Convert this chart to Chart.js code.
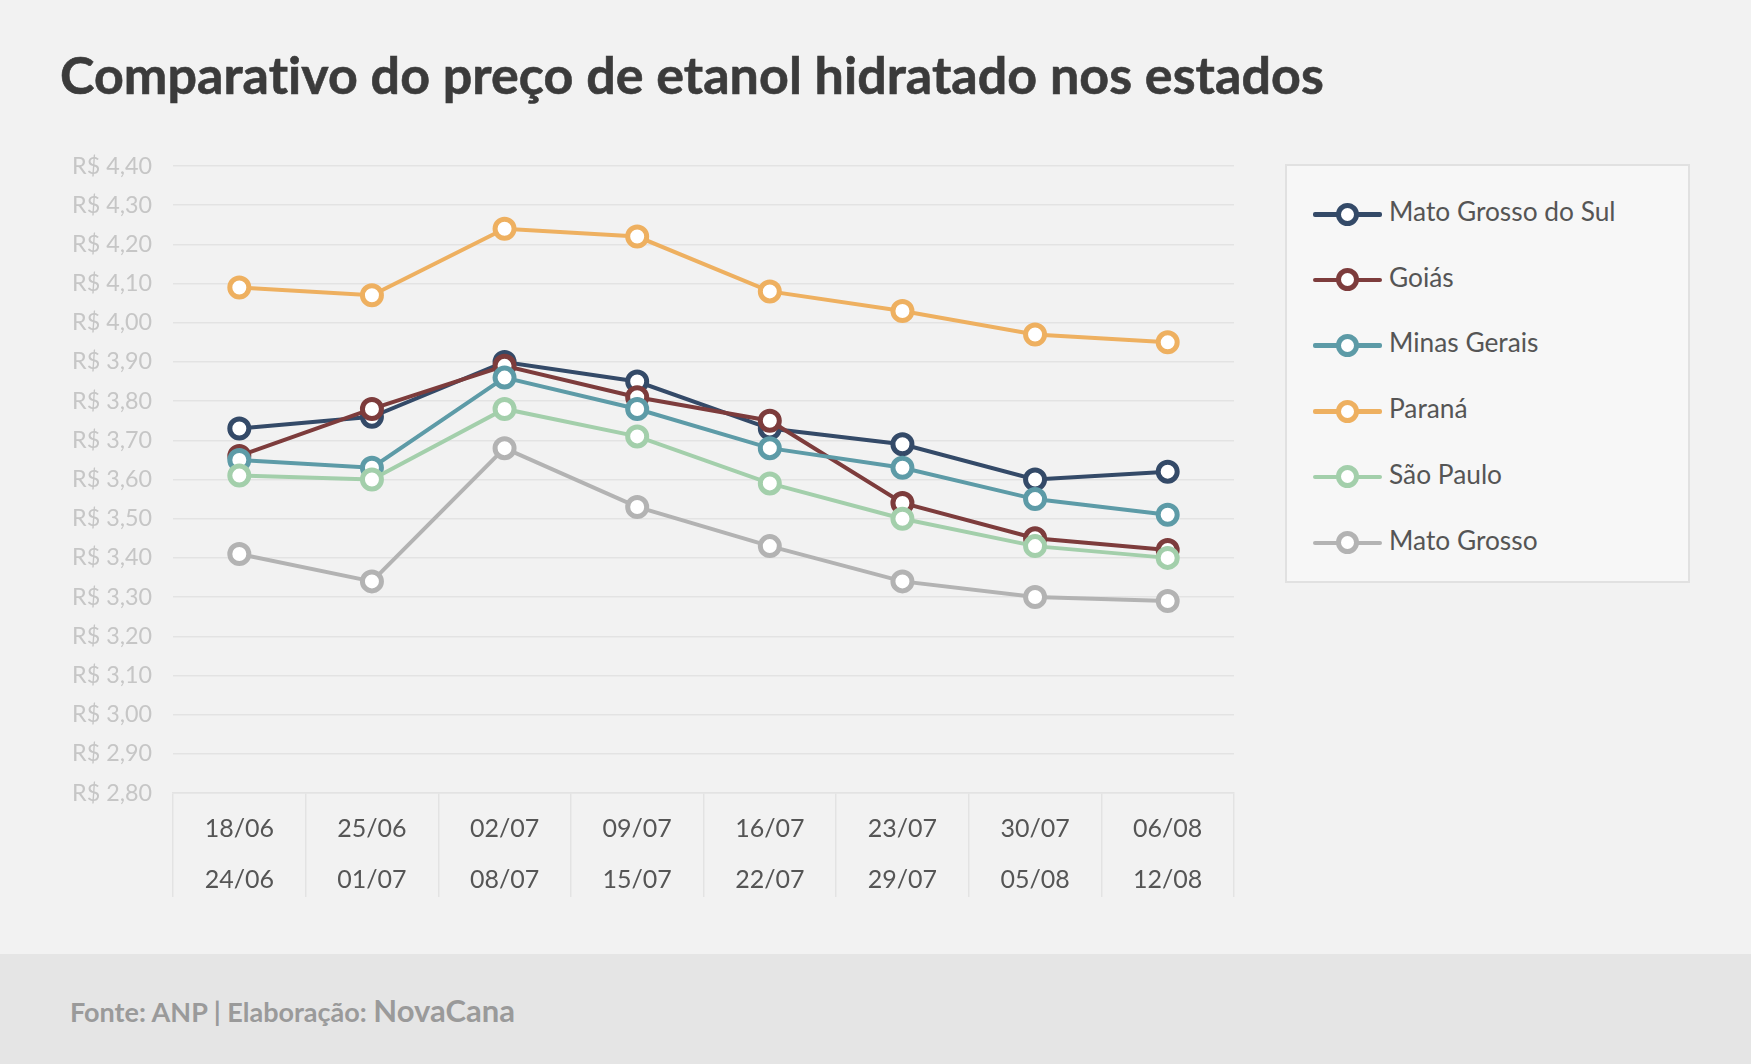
<!DOCTYPE html>
<html>
<head>
<meta charset="utf-8">
<script src="https://cdn.jsdelivr.net/npm/chart.js@4.4.1/dist/chart.umd.min.js"></script>
<style>
    html, body { margin: 0; padding: 0; }
    body { width: 1751px; height: 1064px; background: #f2f2f2; position: relative; overflow: hidden; font-family: Lato, "Noto Sans", sans-serif; }
    h1 { position: absolute; left: 60px; top: 43px; margin: 0; font: 700 52px Lato, sans-serif; color: #3b3b3b; -webkit-text-stroke: 0.6px #3b3b3b; letter-spacing: 0.05px; white-space: nowrap; }
    #wrap { position: absolute; left: 0; top: 120px; width: 1250px; height: 800px; }
    #legend { position: absolute; left: 1285px; top: 164px; width: 401px; height: 415px; background: #f7f7f7; border: 2.5px solid #e1e1e1; }
    .item { position: absolute; left: 0; height: 30px; width: 100%; }
    .sw-line { position: absolute; left: 26px; top: 13px; width: 69px; height: 4.5px; border-radius: 2px; }
    .sw-dot { position: absolute; left: 49px; top: 3.5px; width: 13px; height: 13px; border-radius: 50%; background: #fff; border: 5px solid; }
    .lbl { position: absolute; left: 102px; top: -4px; font: 400 26.3px Lato, sans-serif; color: #555; white-space: nowrap; }
    #footer { position: absolute; left: 0; top: 954px; width: 1751px; height: 110px; background: #e5e5e5; }
    #footer span { position: absolute; left: 70px; top: 37px; font: 700 27px Lato, sans-serif; color: #9a9a9a; white-space: nowrap; }
    #footer b { font-size: 31px; font-weight: 700; }
</style>
</head>
<body>
<h1>Comparativo do preço de etanol hidratado nos estados</h1>
<div id="wrap"><canvas id="chart"></canvas></div>
<div id="legend"></div>
<div id="footer"><span>Fonte: ANP | Elaboração: <b>NovaCana</b></span></div>
<script>
var weekStart = ["18/06", "25/06", "02/07", "09/07", "16/07", "23/07", "30/07", "06/08"];
var weekEnd = ["24/06", "01/07", "08/07", "15/07", "22/07", "29/07", "05/08", "12/08"];

var states = ["Mato Grosso do Sul", "Goiás", "Minas Gerais", "Paraná", "São Paulo", "Mato Grosso"];
var colors = ["#344a68", "#7d3c3c", "#5d9ba7", "#eeb060", "#a3cfab", "#b3b3b3"];

var matoGrossoDoSul = [3.73, 3.76, 3.90, 3.85, 3.73, 3.69, 3.60, 3.62];
var goias = [3.66, 3.78, 3.89, 3.81, 3.75, 3.54, 3.45, 3.42];
var minasGerais = [3.65, 3.63, 3.86, 3.78, 3.68, 3.63, 3.55, 3.51];
var parana = [4.09, 4.07, 4.24, 4.22, 4.08, 4.03, 3.97, 3.95];
var saoPaulo = [3.61, 3.60, 3.78, 3.71, 3.59, 3.50, 3.43, 3.40];
var matoGrosso = [3.41, 3.34, 3.68, 3.53, 3.43, 3.34, 3.30, 3.29];

var yMin = 2.8, yMax = 4.4, yStep = 0.1;

var series = [matoGrossoDoSul, goias, minasGerais, parana, saoPaulo, matoGrosso];

var datasets = series.map(function (vals, i) {
    return {
        label: states[i],
        data: vals,
        borderColor: colors[i],
        borderWidth: 4,
        pointRadius: 9.5,
        pointBorderWidth: 5,
        pointBackgroundColor: "#ffffff",
        pointBorderColor: colors[i],
        tension: 0,
        order: series.length - i
    };
});

new Chart(document.getElementById("chart"), {
    type: "line",
    data: {
        labels: weekStart.map(function (s, i) { return [s, weekEnd[i]]; }),
        datasets: datasets
    },
    options: {
        responsive: true,
        maintainAspectRatio: false,
        animation: false,
        layout: { padding: { top: 46, right: 16, bottom: 23, left: 0 } },
        plugins: { legend: { display: false }, tooltip: { enabled: false } },
        scales: {
            x: {
                offset: true,
                grid: { offset: true, drawOnChartArea: false, drawTicks: true, tickLength: 104, color: "#e3e3e3", lineWidth: 1.5 },
                border: { display: true, color: "#e3e3e3", width: 1.5 },
                ticks: { padding: -93.5, color: "#555", font: { family: "Lato", size: 25, lineHeight: 2.04 }, maxRotation: 0, autoSkip: false },
                afterFit: function (s) { s.height = 104; }
            },
            y: {
                min: yMin,
                max: yMax,
                grid: { drawTicks: false, color: "#e3e3e3", lineWidth: 1.5 },
                border: { display: false },
                ticks: {
                    stepSize: yStep,
                    padding: 21,
                    color: "#c6c6c6",
                    font: { family: "Lato", size: 23.3 },
                    callback: function (v) { return "R$ " + Number(v).toFixed(2).replace(".", ","); }
                },
                afterFit: function (s) { s.width = 173; }
            }
        }
    }
});

var legend = document.getElementById("legend");
datasets.forEach(function (ds, i) {
    var row = document.createElement("div");
    row.className = "item";
    row.style.top = (33 + i * 65.7) + "px";
    row.innerHTML = '<div class="sw-line" style="background:' + ds.borderColor + '"></div>' +
        '<div class="sw-dot" style="border-color:' + ds.borderColor + '"></div>' +
        '<div class="lbl">' + ds.label + '</div>';
    legend.appendChild(row);
});
</script>
</body>
</html>
